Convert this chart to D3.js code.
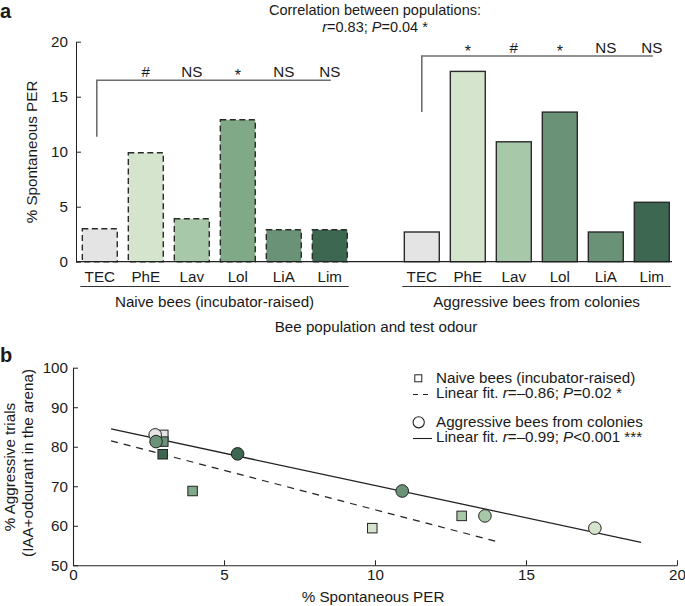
<!DOCTYPE html>
<html>
<head>
<meta charset="utf-8">
<script src="https://cdn.jsdelivr.net/npm/d3@7"></script>
<style>
  body { margin: 0; background: #fff; }
  svg { display: block; font-family: "Liberation Sans", Arial, Helvetica, sans-serif; }
  text { fill: #1a1a1a; }
</style>
</head>
<body>
<svg id="chart" width="685" height="606"></svg>
<script>
// ---------- DATA ----------
const odours = ["TEC", "PhE", "Lav", "Lol", "LiA", "Lim"];
const groups = ["Naive bees (incubator-raised)", "Aggressive bees from colonies"];
const naivePER = [3.0, 9.9, 3.9, 12.9, 2.9, 2.9];
const aggressivePER = [2.7, 17.3, 10.9, 13.6, 2.7, 5.4];
const naiveSig = ["", "#", "NS", "*", "NS", "NS"];
const aggressiveSig = ["", "*", "#", "*", "NS", "NS"];
const naiveColors = ["#e4e4e4", "#d5e5cd", "#a8c8aa", "#80a987", "#6a9276", "#3e6751"];
const aggressiveColors = ["#e4e4e4", "#d5e5cd", "#a8c8aa", "#6a9276", "#6a9276", "#3e6751"];
const perTicks = [0, 5, 10, 15, 20];
// bracket extents (value units): [bottom of stem, level of bar]
const naiveBracket = [11.35, 16.5];
const aggressiveBracket = [13.6, 18.7];

// scatter panel b: odour (colour key), spontaneous PER, % aggressive trials
const naiveOdourB = ["TEC", "LiA", "Lim", "Lol", "PhE", "Lav"];
const naiveX = [2.99, 2.99, 2.97, 3.96, 9.91, 12.87];
const naiveY = [83.0, 81.3, 78.1, 68.8, 59.4, 62.5];
const aggrOdourB = ["TEC", "LiA", "Lim", "Lol", "Lav", "PhE"];
const aggrX = [2.72, 2.75, 5.45, 10.9, 13.64, 17.28];
const aggrY = [83.0, 81.3, 78.2, 68.8, 62.5, 59.4];
const naiveFitX = [1.26, 14.14];
const naiveFitY = [81.5, 55.8];
const aggrFitX = [1.26, 18.81];
const aggrFitY = [84.5, 55.8];
const bXTicks = [0, 5, 10, 15, 20];
const bYTicks = [50, 60, 70, 80, 90, 100];

const svg = d3.select("#chart");
const FS = 15.2;

// ---------- PANEL A ----------
svg.append("text").attr("x", 0).attr("y", 18).attr("font-size", 20).attr("font-weight", "bold").text("a");
svg.append("text").attr("x", 375).attr("y", 14.5).attr("text-anchor", "middle").attr("font-size", 14.5)
  .text("Correlation between populations:");
const t2 = svg.append("text").attr("x", 375).attr("y", 31.5).attr("text-anchor", "middle").attr("font-size", 14.5);
t2.append("tspan").attr("font-style", "italic").text("r");
t2.append("tspan").text("=0.83; ");
t2.append("tspan").attr("font-style", "italic").text("P");
t2.append("tspan").text("=0.04 *");

const slots = [...odours.map(o => "N_" + o), "gap", ...odours.map(o => "A_" + o)];
const xA = d3.scaleBand().domain(slots).range([76.8, 674.8]).paddingInner(0.24).paddingOuter(0.12);
const yA = d3.scaleLinear().domain([0, 20]).range([261.7, 41.7]);

const yAxisA = d3.axisLeft(yA).tickValues(perTicks).tickSizeInner(-5).tickSizeOuter(0).tickPadding(8);
const gA = svg.append("g").attr("transform", "translate(76,0)").call(yAxisA);
gA.select(".domain").attr("stroke", "#222");
gA.selectAll(".tick line").attr("stroke", "#222");
gA.selectAll(".tick text").attr("font-size", FS).attr("font-family", "Liberation Sans, Arial, sans-serif").attr("fill", "#1a1a1a");

svg.append("text").attr("transform", "translate(37,152) rotate(-90)").attr("text-anchor", "middle")
  .attr("font-size", FS).text("% Spontaneous PER");

const barData = [
  ...odours.map((o, i) => ({ key: "N_" + o, label: o, v: naivePER[i], c: naiveColors[i], dashed: true, sig: naiveSig[i] })),
  ...odours.map((o, i) => ({ key: "A_" + o, label: o, v: aggressivePER[i], c: aggressiveColors[i], dashed: false, sig: aggressiveSig[i] }))
];

svg.append("g").selectAll("rect").data(barData).join("rect")
  .attr("x", d => xA(d.key)).attr("width", xA.bandwidth())
  .attr("y", d => yA(d.v)).attr("height", d => yA(0) - yA(d.v))
  .attr("fill", d => d.c)
  .attr("stroke", "#2a2a2a").attr("stroke-width", d => d.dashed ? 1.4 : 1.4)
  .attr("stroke-dasharray", d => d.dashed ? "6,3.5" : null);

// baseline
svg.append("line").attr("x1", 76).attr("x2", 672).attr("y1", yA(0)).attr("y2", yA(0)).attr("stroke", "#222").attr("stroke-width", 1.2);

// category labels
svg.append("g").selectAll("text").data(barData).join("text")
  .attr("x", d => xA(d.key) + xA.bandwidth() / 2).attr("y", 282)
  .attr("text-anchor", "middle").attr("font-size", FS).text(d => d.label);

// group underlines and labels
const groupKeys = [["N_TEC", "N_Lim"], ["A_TEC", "A_Lim"]];
groupKeys.forEach((gk, gi) => {
  const x0 = xA(gk[0]) - 2, x1 = xA(gk[1]) + xA.bandwidth() + 1.5;
  svg.append("line").attr("x1", x0).attr("x2", x1).attr("y1", 286.5).attr("y2", 286.5).attr("stroke", "#333").attr("stroke-width", 1);
  svg.append("text").attr("x", (x0 + x1) / 2).attr("y", 307).attr("text-anchor", "middle").attr("font-size", FS).text(groups[gi]);
});
svg.append("text").attr("x", 376).attr("y", 332).attr("text-anchor", "middle").attr("font-size", FS).text("Bee population and test odour");

// significance brackets
function bracket(prefix, ext, sigs, dx) {
  const xs = xA(prefix + "TEC") + xA.bandwidth() / 2 + dx;
  const xe = xA(prefix + "Lim") + xA.bandwidth() / 2 + 1;
  svg.append("path")
    .attr("d", `M${xs},${yA(ext[0])}V${yA(ext[1])}H${xe}`)
    .attr("fill", "none").attr("stroke", "#6e6e6e").attr("stroke-width", 1.6);
  odours.forEach((o, i) => {
    if (!sigs[i]) return;
    const star = sigs[i] === "*";
    svg.append("text").attr("x", xA(prefix + o) + xA.bandwidth() / 2)
      .attr("y", yA(ext[1]) - (star ? -1 : 3.5))
      .attr("text-anchor", "middle").attr("font-size", star ? 16 : FS).text(sigs[i]);
  });
}
bracket("N_", naiveBracket, naiveSig, -3);
bracket("A_", aggressiveBracket, aggressiveSig, 0);

// ---------- PANEL B ----------
svg.append("text").attr("x", 0).attr("y", 362).attr("font-size", 20).attr("font-weight", "bold").text("b");
const xB = d3.scaleLinear().domain([0, 20]).range([73, 677]);
const yB = d3.scaleLinear().domain([50, 100]).range([565.3, 367.7]);

const gxB = svg.append("g").attr("transform", `translate(0,${yB(50)})`)
  .call(d3.axisBottom(xB).tickValues(bXTicks).tickSizeInner(-5).tickSizeOuter(0).tickPadding(6));
const gyB = svg.append("g").attr("transform", `translate(${xB(0)},0)`)
  .call(d3.axisLeft(yB).tickValues(bYTicks).tickSizeInner(-5).tickSizeOuter(0).tickPadding(5));
[gxB, gyB].forEach(g => {
  g.select(".domain").attr("stroke", "#222").attr("stroke-width", 1.1);
  g.selectAll(".tick line").attr("stroke", "#222");
  g.selectAll(".tick text").attr("font-size", FS).attr("font-family", "Liberation Sans, Arial, sans-serif").attr("fill", "#1a1a1a");
});
gxB.selectAll(".tick text").attr("dy", "0.6em");

svg.append("text").attr("x", 373).attr("y", 602).attr("text-anchor", "middle").attr("font-size", FS).text("% Spontaneous PER");
svg.append("text").attr("transform", "translate(15,467) rotate(-90)").attr("text-anchor", "middle").attr("font-size", FS).text("% Aggressive trials");
svg.append("text").attr("transform", "translate(33,463) rotate(-90)").attr("text-anchor", "middle").attr("font-size", FS).text("(IAA+odourant in the arena)");

// fit lines
const line = d3.line().x(d => xB(d[0])).y(d => yB(d[1]));
svg.append("path").attr("d", line(naiveFitX.map((x, i) => [x, naiveFitY[i]])))
  .attr("fill", "none").attr("stroke", "#222").attr("stroke-width", 1.2).attr("stroke-dasharray", "7,6");
svg.append("path").attr("d", line(aggrFitX.map((x, i) => [x, aggrFitY[i]])))
  .attr("fill", "none").attr("stroke", "#222").attr("stroke-width", 1.3);

const colN = o => naiveColors[odours.indexOf(o)];
const colA = o => aggressiveColors[odours.indexOf(o)];
const SQ = 9.5;
const circles = aggrX.map((x, i) => ({ x, y: aggrY[i], o: aggrOdourB[i] }));
const squares = naiveX.map((x, i) => ({ x, y: naiveY[i], o: naiveOdourB[i] }));

svg.append("g").selectAll("rect").data(squares).join("rect")
  .attr("x", d => xB(d.x) - SQ / 2).attr("y", d => yB(d.y) - SQ / 2)
  .attr("width", SQ).attr("height", SQ)
  .attr("fill", d => colN(d.o)).attr("stroke", "#222").attr("stroke-width", 1);
svg.append("g").selectAll("circle").data(circles).join("circle")
  .attr("cx", d => xB(d.x)).attr("cy", d => yB(d.y)).attr("r", 6.3)
  .attr("fill", d => colA(d.o)).attr("stroke", "#222").attr("stroke-width", 1);

// legend
const lg = svg.append("g");
lg.append("rect").attr("x", 418.3 - 3.5).attr("y", 378.3 - 3.5).attr("width", 7).attr("height", 7)
  .attr("fill", "#fff").attr("stroke", "#222").attr("stroke-width", 1);
lg.append("text").attr("x", 436).attr("y", 383).attr("font-size", FS).text("Naive bees (incubator-raised)");
lg.append("line").attr("x1", 413).attr("x2", 433).attr("y1", 394.5).attr("y2", 394.5)
  .attr("stroke", "#222").attr("stroke-width", 1.1).attr("stroke-dasharray", "5,5");
const l2 = lg.append("text").attr("x", 436).attr("y", 398).attr("font-size", FS);
l2.append("tspan").text("Linear fit. ");
l2.append("tspan").attr("font-style", "italic").text("r");
l2.append("tspan").text("=\u20130.86; ");
l2.append("tspan").attr("font-style", "italic").text("P");
l2.append("tspan").text("=0.02 *");
lg.append("circle").attr("cx", 418.7).attr("cy", 422.3).attr("r", 5.6)
  .attr("fill", "#fff").attr("stroke", "#222").attr("stroke-width", 1.1);
lg.append("text").attr("x", 436).attr("y", 427).attr("font-size", FS).text("Aggressive bees from colonies");
lg.append("line").attr("x1", 413).attr("x2", 432).attr("y1", 438.5).attr("y2", 438.5)
  .attr("stroke", "#222").attr("stroke-width", 1.1);
const l4 = lg.append("text").attr("x", 436).attr("y", 442).attr("font-size", FS);
l4.append("tspan").text("Linear fit. ");
l4.append("tspan").attr("font-style", "italic").text("r");
l4.append("tspan").text("=\u20130.99; ");
l4.append("tspan").attr("font-style", "italic").text("P");
l4.append("tspan").text("<0.001 ***");
</script>
</body>
</html>
